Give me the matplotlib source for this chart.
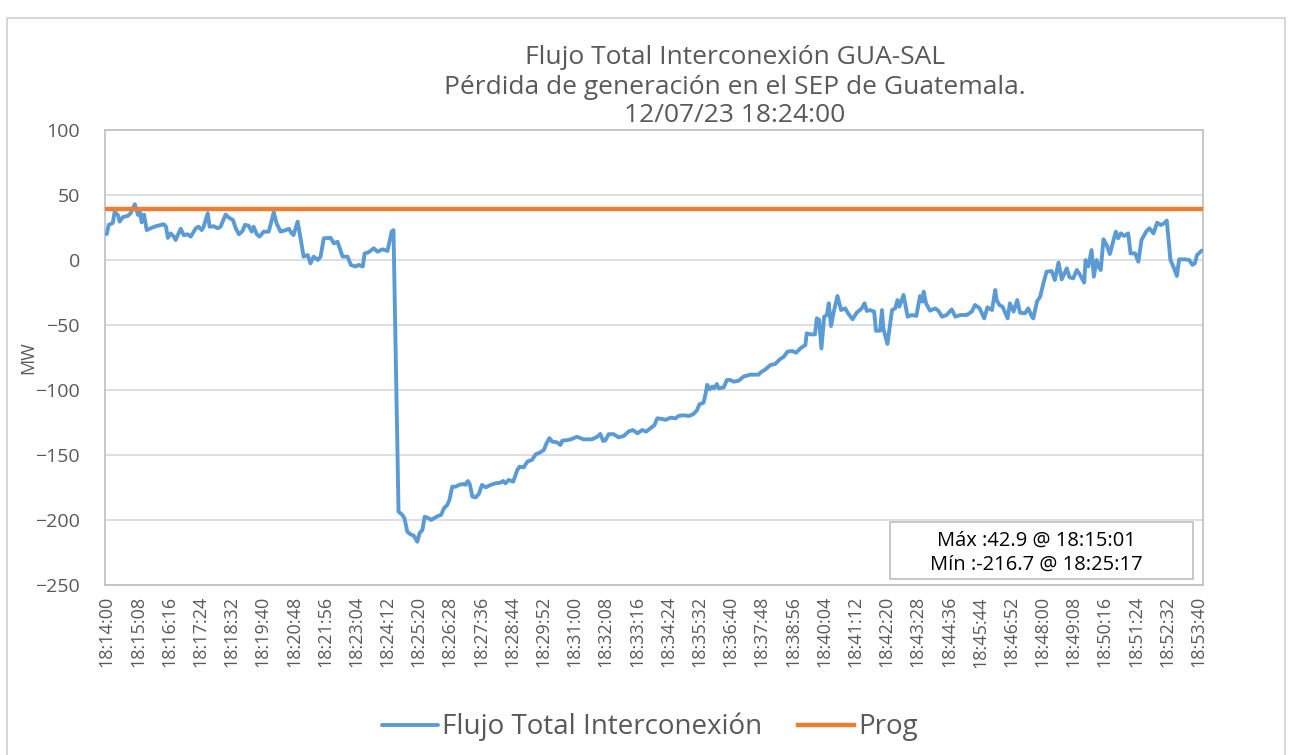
import matplotlib
matplotlib.use("Agg")
import matplotlib.pyplot as plt
from matplotlib.patches import Rectangle

# seconds after 18:14:00, and MW
t_sec = [0, 4, 13, 17, 24, 28, 35, 46, 52, 61, 68, 72, 76, 81, 87, 96, 107, 118, 124, 129,
         133, 139, 146, 150, 161, 168, 176, 183, 194, 200, 207, 211, 220, 224, 233, 242, 248,
         259, 266, 275, 281, 288, 296, 301, 309, 316, 320, 327, 333, 342, 353, 364, 370, 379,
         390, 397, 403, 407, 416, 423, 429, 438, 444, 451, 460, 466, 473, 488, 495, 503, 514,
         525, 532, 542, 549, 558, 562, 571, 582, 590, 601, 612, 621, 625, 636, 644, 649, 655,
         662, 669, 677, 682, 688, 693, 702, 707, 713, 722, 729, 735, 742, 747, 753, 760, 768,
         777, 782, 787, 791, 797, 804, 811, 818, 826, 837, 847, 858, 864, 869, 876, 886, 895,
         900, 909, 917, 927, 935, 945, 953, 958, 965, 971, 982, 989, 993, 1004, 1011, 1025,
         1040, 1058, 1069, 1076, 1082, 1087, 1094, 1105, 1116, 1127, 1138, 1147, 1157, 1167,
         1176, 1185, 1194, 1200, 1211, 1218, 1229, 1240, 1247, 1258, 1269, 1279, 1287, 1292,
         1301, 1305, 1309, 1314, 1320, 1324, 1330, 1334, 1345, 1352, 1359, 1367, 1378, 1388,
         1403, 1421, 1426, 1436, 1447, 1457, 1468, 1476, 1484, 1494, 1503, 1512, 1523, 1526,
         1534, 1544, 1548, 1553, 1558, 1564, 1570, 1574, 1579, 1585, 1593, 1601, 1610, 1617,
         1626, 1635, 1646, 1652, 1657, 1664, 1673, 1677, 1686, 1690, 1693, 1702, 1712, 1719,
         1724, 1728, 1737, 1746, 1755, 1765, 1773, 1778, 1781, 1786, 1795, 1806, 1813, 1821,
         1831, 1842, 1850, 1861, 1875, 1886, 1893, 1903, 1913, 1920, 1930, 1937, 1940, 1946,
         1953, 1964, 1969, 1977, 1985, 1991, 2002, 2009, 2017, 2020, 2028, 2035, 2042, 2049,
         2060, 2067, 2075, 2082, 2093, 2099, 2107, 2115, 2122, 2131, 2134, 2140, 2147, 2152,
         2158, 2162, 2167, 2173, 2180, 2187, 2193, 2200, 2205, 2211, 2218, 2227, 2232, 2242,
         2249, 2256, 2266, 2273, 2282, 2290, 2298, 2305, 2311, 2319, 2327, 2333, 2338, 2351,
         2360, 2367, 2372, 2377, 2387]
flujo = [20, 27, 28.5, 37, 34.6, 29.5, 33, 34, 36, 42.9, 34.6, 37, 29, 35, 23, 24.5, 26, 27,
         27.5, 25.6, 17, 20.5, 18, 15.4, 24, 19, 19.8, 18, 24.4, 25.6, 23, 25.6, 36, 25.6, 26,
         24.4, 25.6, 35, 32.6, 30.8, 24.4, 19.8, 22.3, 27, 26.4, 21.8, 25.6, 19.8, 18, 21.8,
         21.8, 36.7, 28.2, 21.8, 23, 24, 20.5, 19.2, 29.5, 15.4, 2.6, 3.8, -2.6, 2.6, 0, 2.6,
         16.7, 17, 12.8, 14, 2.6, 2.6, -3.8, -5, -3.8, -5, 5, 6, 9, 6.4, 8.2, 7, 21.8, 23,
         -193.6, -196, -198.7, -209, -211, -212, -216.7, -210, -207.7, -197.5, -198.7, -200,
         -198.7, -197, -196, -191, -188.5, -184.6, -174.4, -174.4, -173, -172.3, -173, -170,
         -172, -182, -182.6, -180, -173, -174.9, -173, -171.8, -171.3, -170, -171.8, -169.2,
         -170.5, -161.5, -159, -159.5, -155, -153.8, -149.5, -148, -146, -141.5, -137, -139.7,
         -140.3, -142.3, -139, -138.5, -138, -136, -138, -137.9, -136, -133.8, -139.2, -138.7,
         -134, -134, -136.4, -135.4, -131.8, -130.8, -133.3, -130.8, -132, -129.5, -127,
         -121.8, -122.3, -123, -121.3, -121.8, -119.8, -119.5, -120, -118.5, -115.4, -111,
         -109.8, -103.8, -96, -99.5, -97.4, -98.7, -95.4, -98.7, -98, -92.3, -92.3, -93.6,
         -92.8, -89.7, -88.2, -88.2, -86.4, -84.1, -80.8, -80, -76.2, -74.4, -70.5, -70, -71.3,
         -68, -65.4, -56.4, -57.2, -57.2, -44.9, -46, -68, -43.6, -42.3, -33.3, -50.8, -39.7,
         -27.7, -38.5, -37.2, -41.5, -45.6, -40.5, -37.2, -33.3, -39.2, -38.5, -39.7, -54.4,
         -54.4, -38.5, -52.6, -64.6, -38.5, -37.2, -30.8, -35.9, -26.9, -43.6, -42.3, -43,
         -27.7, -32, -24.4, -33.3, -39, -37.2, -39, -43.6, -42.3, -38, -43.6, -42.3, -42.3,
         -39.7, -34.6, -37.2, -44.9, -36.4, -38.5, -23.1, -30.8, -34.6, -35.9, -44.9, -33.3,
         -39.7, -30.8, -40.5, -41, -37.2, -43.6, -44.9, -32, -28.2, -17.9, -9, -8.5, -15.4,
         -2, -14.9, -6.4, -13.3, -14.1, -7.7, -11.5, -17.4, 0, -5, 7.7, -12.8, 0, -5, -7.7,
         15.9, 11.5, 4.6, 12.8, 21.8, 16.7, 20.5, 18.5, 20.5, 5.1, 5.1, -1.3, 15.4, 21.8, 24.4,
         20.5, 28.7, 26.9, 28.2, 30.3, 0, -6.4, -12.3, 0.5, 0.5, 0, -3.8, -2.6, 3.8, 7.2]
prog = 39
t_end = 2390
tick_step = 68
y_ticks = [100, 50, 0, -50, -100, -150, -200, -250]

titulo = ["Flujo Total Interconexión GUA-SAL",
          "Pérdida de generación en el SEP de Guatemala.",
          "12/07/23 18:24:00"]
texto_maxmin = ["Máx :42.9 @ 18:15:01", "Mín :-216.7 @ 18:25:17"]

BLUE = "#5B9BD5"
ORANGE = "#ED7D31"
GRAY = "#595959"

plt.rcParams['font.family'] = ['Open Sans', 'DejaVu Sans']

fig = plt.figure(figsize=(12.91, 7.55), dpi=100)
W, H = 1291, 755

# outer chart border
fig.patches.append(Rectangle((7 / W, -0.01), (1285 - 7) / W, (H - 18) / H + 0.01,
                             transform=fig.transFigure, fill=False,
                             edgecolor="#d0d0d0", linewidth=1.2))

ax = fig.add_axes([105 / W, 1 - 585 / H, (1203 - 105) / W, (585 - 130) / H])

ax.plot(t_sec, flujo, color=BLUE, linewidth=2.8, label="Flujo Total Interconexión",
        solid_joinstyle="round", solid_capstyle="round", zorder=3)
ax.plot([-4, t_end], [prog, prog], color=ORANGE, linewidth=3.2, label="Prog", zorder=4)

ax.set_xlim(-4, t_end)
ax.set_ylim(-250, 100)
ax.set_yticks(y_ticks)
ax.yaxis.grid(True, color="#d9d9d9", linewidth=1.2)
ax.set_axisbelow(True)

xt = list(range(0, 2381, tick_step))
xl = []
for s in xt:
    tot = 18 * 3600 + 14 * 60 + s
    xl.append("%02d:%02d:%02d" % (tot // 3600, (tot % 3600) // 60, tot % 60))
ax.set_xticks(xt)
ax.set_xticklabels(xl, rotation=90, fontsize=13, color=GRAY)
ax.tick_params(axis='both', length=0)
ax.tick_params(axis='x', pad=8)
ax.tick_params(axis='y', labelsize=14, labelcolor=GRAY, pad=18)
for sp in ax.spines.values():
    sp.set_color("#bfbfbf")
    sp.set_linewidth(1.2)

ax.set_ylabel("MW", fontsize=13, color=GRAY)
ax.yaxis.set_label_coords((37 - 105) / 1098, 0.5)

for line, yy in zip(titulo, [57, 88, 116]):
    fig.text(735 / W, 1 - yy / H, line, ha="center", va="center", fontsize=19, color=GRAY)

# max/min box
fig.patches.append(Rectangle((890 / W, 1 - 579 / H), (1193 - 890) / W, (579 - 522) / H,
                             transform=fig.transFigure, facecolor="white",
                             edgecolor="#bfbfbf", linewidth=1.2, zorder=5))
for line, yy in zip(texto_maxmin, [541, 565]):
    fig.text(1036 / W, 1 - yy / H, line, ha="center", va="center", fontsize=14.5,
             color="black", zorder=6)

fig.legend(loc="center", bbox_to_anchor=(650 / W, 1 - 727 / H), ncol=2, frameon=False,
           fontsize=20, labelcolor=GRAY, handlelength=2.0, handletextpad=0.15,
           columnspacing=1.3)

fig.savefig("out.png", dpi=100)
